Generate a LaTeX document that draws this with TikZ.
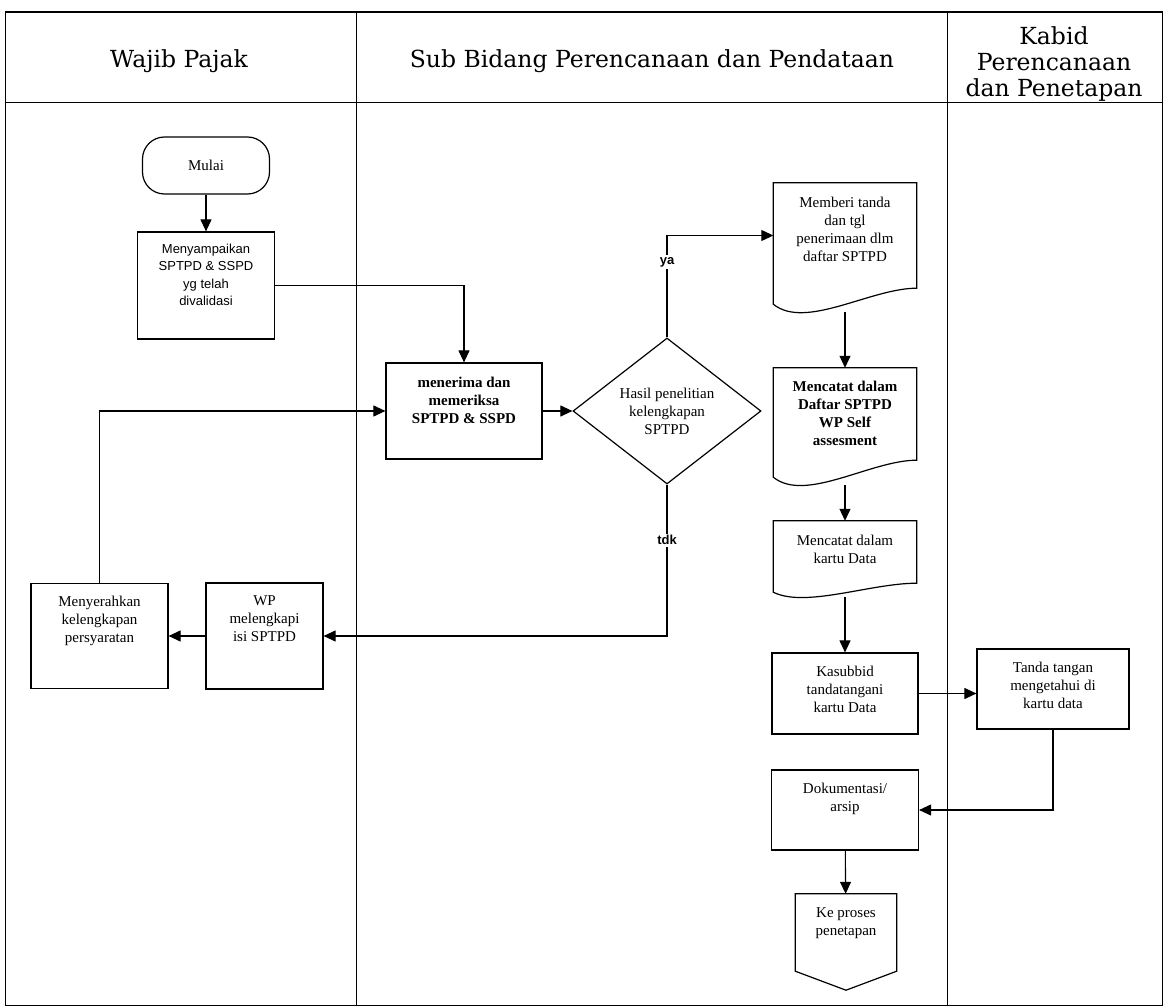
\documentclass[tikz,border=0pt]{standalone}
\usepackage{fontspec}
\setmainfont{Liberation Serif}
\newfontfamily\headfont{DejaVu Serif}
\newfontfamily\boxsans{Liberation Sans}
\usetikzlibrary{arrows.meta,shapes.geometric,calc}

\tikzset{
  box/.style={draw, line width=1.2pt, inner sep=0pt},
  docbox/.style={inner sep=0pt},
  txt/.style={anchor=north, align=center, inner sep=0pt,
    font=\fontsize{15}{18}\selectfont},
  flow/.style={line width=1.1pt, -{Triangle[length=12pt,width=11pt]}},
  lane/.style={line width=1pt},
  answer/.style={fill=white, inner sep=2pt,
    font=\boxsans\bfseries\fontsize{13}{13}\selectfont},
  head/.style={align=center, inner sep=0pt,
    font=\headfont\fontsize{23.5}{26}\selectfont},
}

\begin{document}
\begin{tikzpicture}[x=1pt,y=-1pt]

\useasboundingbox (0,0) rectangle (1164,1008);

  %% lanes
  \draw[lane] (5,12) rectangle (1162,1005);
  \draw[line width=2pt] (5,12) -- (1162,12);
  \draw[lane] (5,103) -- (1162,103);
  \draw[lane] (356,12) -- (356,1005);
  \draw[lane] (947,12) -- (947,1005);

  \node[head] (hWP) at (179,61) {Wajib Pajak};
  \node[head] (hSub) at (652,61) {Sub Bidang Perencanaan dan Pendataan};
  \node[head] (hKabid) at (1054,64) {Kabid\\Perencanaan\\dan Penetapan};

  %% shapes
  \node[box, rounded corners=22pt, minimum width=127pt, minimum height=57pt,
    font=\fontsize{15}{18}\selectfont] (mulai) at (206,165.5) {Mulai};
  \node[box, minimum width=137pt, minimum height=107pt] (sampaikan) at (206,285.5) {};
  \node[box, minimum width=156pt, minimum height=96pt] (terima) at (464,411) {};
  \node[box, diamond, aspect=1.29, minimum width=188pt, minimum height=146pt,
    align=center, font=\fontsize{15}{18}\selectfont] (cek) at (667,411)
    {Hasil penelitian\\kelengkapan\\SPTPD};
  \node[docbox, minimum width=143pt, minimum height=129pt] (memberi) at (845,247.5) {};
  \node[docbox, minimum width=143pt, minimum height=117pt] (daftar) at (845,426.5) {};
  \node[docbox, minimum width=143pt, minimum height=76pt] (kartu) at (845,559) {};
  \node[box, minimum width=146pt, minimum height=81pt] (kasubbid) at (845,693.5) {};
  \node[box, minimum width=152pt, minimum height=80pt] (tanda) at (1053,689) {};
  \node[box, minimum width=147pt, minimum height=80pt] (arsip) at (845,810) {};
  \node[docbox, minimum width=101pt, minimum height=96pt] (proses) at (846,942) {};
  \node[box, minimum width=117pt, minimum height=106pt] (wp) at (264.5,636) {};
  \node[box, minimum width=137pt, minimum height=105pt] (serah) at (99.5,636) {};

  %% document outlines
  \foreach \d/\l/\r/\c in {memberi/8/24/26, daftar/8/25/26, kartu/5/14/16}
    \draw[line width=1.2pt] ($(\d.south west)+(0,-\l)$) .. controls +(32,\c) and +(-46,0)
      .. ($(\d.south east)+(0,-\r)$) -- (\d.north east) -- (\d.north west) -- cycle;

  %% off page
  \draw[line width=1.2pt] (proses.north west) -- (proses.north east)
    -- ($(proses.south east)+(0,-19)$) -- (proses.south)
    -- ($(proses.south west)+(0,-19)$) -- cycle;

  %% texts
  \node[txt, font=\boxsans\fontsize{13}{17.5}\selectfont] (sampaikanT)
    at ([yshift=-12pt]sampaikan.north) {Menyampaikan\\SPTPD \& SSPD\\yg telah\\divalidasi};
  \node[txt, font=\bfseries\fontsize{15}{18}\selectfont] (terimaT)
    at ([yshift=-14pt]terima.north) {menerima dan\\memeriksa\\SPTPD \& SSPD};
  \node[txt] (memberiT) at ([yshift=-14pt]memberi.north)
    {Memberi tanda\\dan tgl\\penerimaan dlm\\daftar SPTPD};
  \node[txt, font=\bfseries\fontsize{15}{18}\selectfont] (daftarT)
    at ([yshift=-13pt]daftar.north) {Mencatat dalam\\Daftar SPTPD\\WP Self\\assesment};
  \node[txt] (kartuT) at ([yshift=-14pt]kartu.north) {Mencatat dalam\\kartu Data};
  \node[txt] (kasubbidT) at ([yshift=-13pt]kasubbid.north) {Kasubbid\\tandatangani\\kartu Data};
  \node[txt] (tandaT) at ([yshift=-13pt]tanda.north) {Tanda tangan\\mengetahui di\\kartu data};
  \node[txt] (arsipT) at ([yshift=-13pt]arsip.north) {Dokumentasi/\\arsip};
  \node[txt] (prosesT) at ([yshift=-14pt]proses.north) {Ke proses\\penetapan};
  \node[txt] (wpT) at ([yshift=-13pt]wp.north) {WP\\melengkapi\\isi SPTPD};
  \node[txt] (serahT) at ([yshift=-13pt]serah.north) {Menyerahkan\\kelengkapan\\persyaratan};

  %% connectors
  \draw[flow] (mulai) -- (sampaikan);
  \draw[flow] (sampaikan.east) -| (terima.north);
  \draw[flow] (terima) -- (cek);
  \draw[flow] (cek.north) |- node[answer, pos=0.37] (ya) {ya} ([yshift=12pt]memberi.west);
  \draw[flow] (memberi) -- (daftar);
  \draw[flow] (daftar) -- (kartu);
  \draw[flow] (kartu) -- (kasubbid);
  \draw[flow] (kasubbid.east) -- (kasubbid.east -| tanda.west);
  \draw[flow] (tanda.south) |- (arsip.east);
  \draw[flow] (arsip) -- (proses);
  \draw[flow] (cek.south) |- node[answer, pos=0.184] (tdk) {tdk} (wp.east);
  \draw[flow] (wp) -- (serah);
  \draw[flow] (serah.north) |- (terima.west);

\end{tikzpicture}
\end{document}
